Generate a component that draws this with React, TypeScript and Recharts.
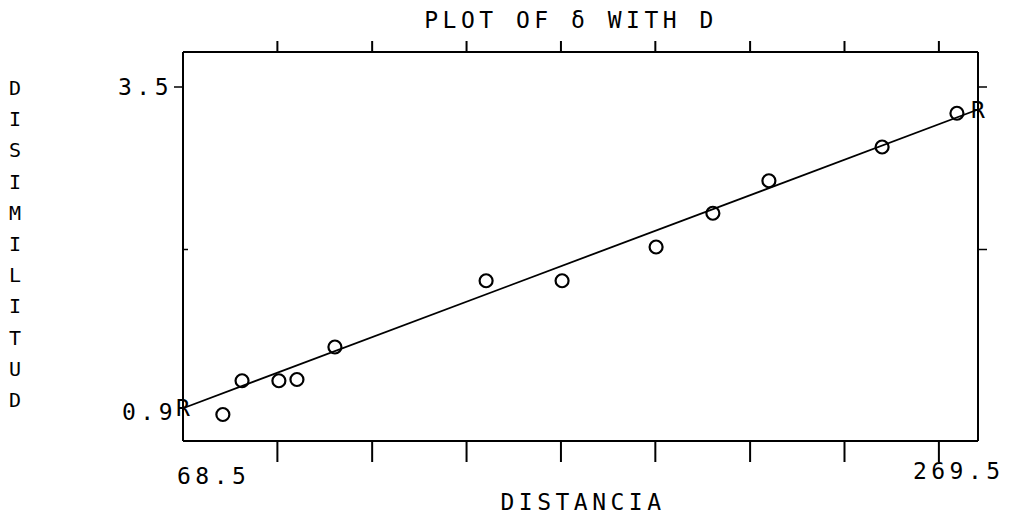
import React from "react";
import { ScatterChart, Scatter, XAxis, YAxis } from "recharts";

// observed points (DISTANCIA vs DISIMILITUD)
const distancia = [79.1, 84.2, 94.0, 98.8, 108.9, 149.1, 169.3, 194.3, 209.4, 224.3, 254.4, 274.3];
const disimilitud = [0.88, 1.15, 1.15, 1.16, 1.42, 1.95, 1.95, 2.22, 2.49, 2.75, 3.02, 3.29];

// regression line endpoints (marked with R)
const regX = [68.5, 279.9];
const regY = [0.93, 3.32];

const xTicks = [68.5, 93.6, 118.8, 143.9, 169.0, 194.1, 219.3, 244.4, 269.5];
const yTicks = [0.9, 2.2, 3.5];
const yLabel = ["D", "I", "S", "I", "M", "I", "L", "I", "T", "U", "D"];

const FONT = "DejaVu Sans Mono";

const points = distancia.map((x, i) => ({ x, y: disimilitud[i] }));
const regression = regX.map((x, i) => ({ x, y: regY[i] }));

const Circle = (props: any) => (
  <circle cx={props.cx} cy={props.cy} r={6.5} fill="none" stroke="#000" strokeWidth={2.2} />
);

const RMark = (props: any) => (
  <text
    x={props.cx}
    y={props.cy + 8}
    textAnchor="middle"
    fontFamily={FONT}
    fontSize={23}
    fill="#000"
  >
    R
  </text>
);

const textStyle = { fontFamily: FONT, fontSize: 23, letterSpacing: 4.5, fill: "#000" };

const BottomTick = ({ x, y, index }: any) => {
  const last = index === xTicks.length - 1;
  return (
    <g>
      {index > 0 && <line x1={x} y1={y} x2={x} y2={y + 21} stroke="#000" strokeWidth={2} />}
      {index === 0 && (
        <text x={x - 6} y={y + 43} {...textStyle}>
          68.5
        </text>
      )}
      {last && (
        <text x={x - 26} y={y + 38} {...textStyle}>
          269.5
        </text>
      )}
    </g>
  );
};

const TopTick = ({ x, y, index }: any) =>
  index > 0 ? <line x1={x} y1={y} x2={x} y2={y - 11} stroke="#000" strokeWidth={2} /> : <g />;

const LeftTick = ({ x, y, payload }: any) => {
  const v = payload.value;
  return (
    <g>
      {v === 3.5 && <line x1={x} y1={y} x2={x - 9} y2={y} stroke="#000" strokeWidth={1.5} />}
      {v === 2.2 && <line x1={x} y1={y} x2={x + 5} y2={y} stroke="#000" strokeWidth={1.5} />}
      {v !== 2.2 && (
        <text x={v === 3.5 ? x - 10 : x - 6} y={y + 8} textAnchor="end" {...textStyle}>
          {v.toFixed(1)}
        </text>
      )}
    </g>
  );
};

const RightTick = ({ x, y, payload }: any) =>
  payload.value !== 0.9 ? (
    <line x1={x} y1={y} x2={x + 9} y2={y} stroke="#000" strokeWidth={1.5} />
  ) : (
    <g />
  );

const axisLine = { stroke: "#000", strokeWidth: 2 };

export default function App() {
  return (
    <div style={{ position: "absolute", left: 0, top: 0, width: 1018, height: 521, background: "#fff" }}>
      <ScatterChart width={1018} height={521} margin={{ top: 32, right: 20, bottom: 40, left: 123 }}>
        <XAxis
          xAxisId="b"
          type="number"
          dataKey="x"
          domain={[68.5, 279.9]}
          ticks={xTicks}
          interval={0}
          height={40}
          tickSize={0}
          tickMargin={0}
          tickLine={false}
          tick={<BottomTick />}
          axisLine={axisLine}
        />
        <XAxis
          xAxisId="t"
          orientation="top"
          type="number"
          dataKey="x"
          domain={[68.5, 279.9]}
          ticks={xTicks}
          interval={0}
          height={20}
          tickSize={0}
          tickMargin={0}
          tickLine={false}
          tick={<TopTick />}
          axisLine={axisLine}
        />
        <YAxis
          yAxisId="l"
          type="number"
          dataKey="y"
          domain={[0.668, 3.78]}
          ticks={yTicks}
          interval={0}
          width={60}
          tickSize={0}
          tickMargin={0}
          tickLine={false}
          tick={<LeftTick />}
          axisLine={axisLine}
        />
        <YAxis
          yAxisId="r"
          orientation="right"
          type="number"
          dataKey="y"
          domain={[0.668, 3.78]}
          ticks={yTicks}
          interval={0}
          width={20}
          tickSize={0}
          tickMargin={0}
          tickLine={false}
          tick={<RightTick />}
          axisLine={axisLine}
        />
        <Scatter
          xAxisId="b"
          yAxisId="l"
          data={regression}
          line={{ stroke: "#000", strokeWidth: 1.8 }}
          shape={<RMark />}
          isAnimationActive={false}
        />
        <Scatter
          xAxisId="b"
          yAxisId="l"
          data={points}
          shape={<Circle />}
          isAnimationActive={false}
        />
        <Scatter
          xAxisId="t"
          yAxisId="r"
          data={regression}
          shape={() => <g />}
          isAnimationActive={false}
        />
      </ScatterChart>
      <svg
        width={1018}
        height={521}
        style={{ position: "absolute", left: 0, top: 0, pointerEvents: "none" }}
      >
        <text x={571} y={28} textAnchor="middle" {...textStyle}>
          PLOT OF δ WITH D
        </text>
        <text x={583} y={510} textAnchor="middle" {...textStyle}>
          DISTANCIA
        </text>
        {yLabel.map((ch, i) => (
          <text
            key={i}
            x={15}
            y={95 + i * 31.2}
            textAnchor="middle"
            fontFamily={FONT}
            fontSize={20}
            fill="#000"
          >
            {ch}
          </text>
        ))}
      </svg>
    </div>
  );
}
